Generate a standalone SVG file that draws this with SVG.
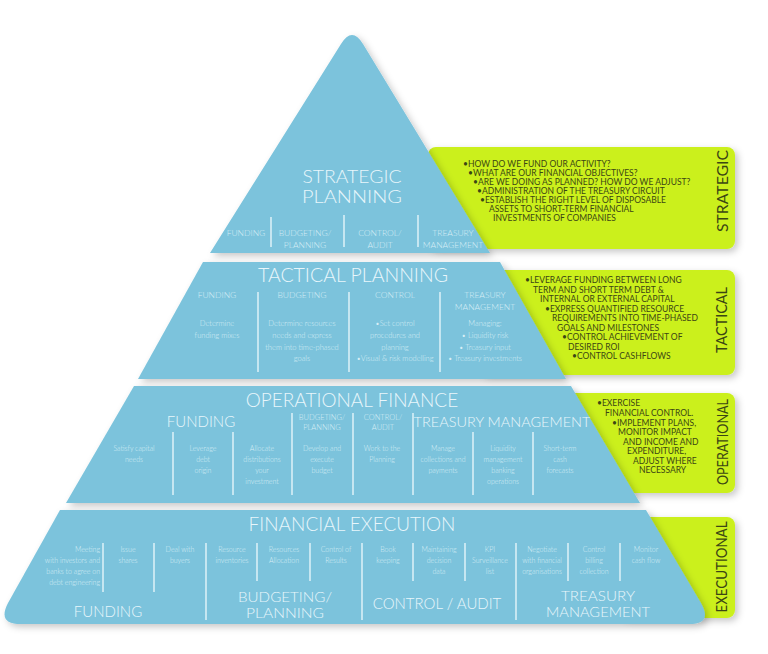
<svg xmlns="http://www.w3.org/2000/svg" width="768" height="654" viewBox="0 0 768 654">
<defs>
<filter id="sh" x="-10%" y="-10%" width="130%" height="130%">
<feDropShadow dx="3" dy="3" stdDeviation="3.5" flood-color="#000" flood-opacity="0.22"/>
</filter>
<style>
.band{fill:#7bc3dc;filter:url(#sh)}
.note{fill:#cbf01d;filter:url(#sh)}
text{font-family:Lato,"Open Sans","DejaVu Sans",sans-serif}
.h1{font-size:19px;fill:#e8f6fb;text-anchor:middle;font-weight:300}
.h2{font-size:15px;fill:#e8f6fb;text-anchor:middle;font-weight:300}
.sm{font-size:8.5px;fill:#d8eef6;text-anchor:middle;font-weight:300}
.tx{font-size:7px;fill:#d8eef6;text-anchor:middle;font-weight:300}
.dv{stroke:#e6f5fa;stroke-width:1.4}
.nt{font-size:8.5px;fill:#3b4614}
.vl{font-size:15px;fill:#3b4614;text-anchor:middle}
</style>
</defs>
<rect width="768" height="654" fill="#ffffff"/>

<g id="strategic-note">
<rect class="note" x="428" y="147" width="307" height="102" rx="8"/>
<text class="nt" x="463" y="167">•HOW DO WE FUND OUR ACTIVITY?</text>
<text class="nt" x="468" y="176">•WHAT ARE OUR FINANCIAL OBJECTIVES?</text>
<text class="nt" x="473" y="185">•ARE WE DOING AS PLANNED? HOW DO WE ADJUST?</text>
<text class="nt" x="477" y="194">•ADMINISTRATION OF THE TREASURY CIRCUIT</text>
<text class="nt" x="480" y="203">•ESTABLISH THE RIGHT LEVEL OF DISPOSABLE</text>
<text class="nt" x="489" y="212">ASSETS TO SHORT-TERM FINANCIAL</text>
<text class="nt" x="493" y="221">INVESTMENTS OF COMPANIES</text>
<text class="vl" transform="translate(728,191) rotate(-90)" textLength="82" lengthAdjust="spacingAndGlyphs">STRATEGIC</text>
</g>

<g id="tactical-note">
<rect class="note" x="480" y="270" width="255" height="105" rx="8"/>
<text class="nt" x="525" y="283">•LEVERAGE FUNDING BETWEEN LONG</text>
<text class="nt" x="533" y="292.5">TERM AND SHORT TERM DEBT &amp;</text>
<text class="nt" x="540" y="302">INTERNAL OR EXTERNAL CAPITAL</text>
<text class="nt" x="545" y="311.5">•EXPRESS QUANTIFIED RESOURCE</text>
<text class="nt" x="552" y="321">REQUIREMENTS INTO TIME-PHASED</text>
<text class="nt" x="557" y="330.5">GOALS AND MILESTONES</text>
<text class="nt" x="562" y="340">•CONTROL ACHIEVEMENT OF</text>
<text class="nt" x="568" y="349.5">DESIRED ROI</text>
<text class="nt" x="572" y="359">•CONTROL CASHFLOWS</text>
<text class="vl" transform="translate(727,320) rotate(-90)" textLength="66" lengthAdjust="spacingAndGlyphs">TACTICAL</text>
</g>

<g id="operational-note">
<rect class="note" x="560" y="393" width="175" height="100" rx="8"/>
<text class="nt" x="597" y="406">•EXERCISE</text>
<text class="nt" x="605" y="416">FINANCIAL CONTROL.</text>
<text class="nt" x="612" y="426">•IMPLEMENT PLANS,</text>
<text class="nt" x="618" y="435">MONITOR IMPACT</text>
<text class="nt" x="623" y="445">AND INCOME AND</text>
<text class="nt" x="627" y="454">EXPENDITURE,</text>
<text class="nt" x="633" y="464">ADJUST WHERE</text>
<text class="nt" x="639" y="473">NECESSARY</text>
<text class="vl" transform="translate(728,442) rotate(-90)" textLength="86" lengthAdjust="spacingAndGlyphs">OPERATIONAL</text>
</g>

<g id="executional-note">
<rect class="note" x="620" y="517" width="115" height="101" rx="8"/>
<text class="vl" transform="translate(727,567) rotate(-90)" textLength="91" lengthAdjust="spacingAndGlyphs">EXECUTIONAL</text>
</g>

<g id="strategic">
<path class="band" d="M210,253 L341,44 Q352,26 363,44 L490,253 Z"/>
<text class="h1" x="352" y="182.5" style="font-size:17px" textLength="99" lengthAdjust="spacingAndGlyphs">STRATEGIC</text>
<text class="h1" x="352" y="203" style="font-size:17px" textLength="100" lengthAdjust="spacingAndGlyphs">PLANNING</text>
<line class="dv" x1="271" y1="217" x2="271" y2="247"/>
<line class="dv" x1="344" y1="215" x2="344" y2="247"/>
<line class="dv" x1="418" y1="215" x2="418" y2="247"/>
<text class="sm" x="246" y="236">FUNDING</text>
<text class="sm" x="305" y="236">BUDGETING/</text>
<text class="sm" x="305" y="248">PLANNING</text>
<text class="sm" x="380" y="236">CONTROL/</text>
<text class="sm" x="380" y="248">AUDIT</text>
<text class="sm" x="453" y="236">TREASURY</text>
<text class="sm" x="453" y="248">MANAGEMENT</text>
</g>

<g id="tactical">
<path class="band" d="M203,262 L500,262 L566,379 L138,379 Z"/>
<text class="h1" x="353" y="282" style="font-size:19.5px">TACTICAL PLANNING</text>
<line class="dv" x1="258" y1="292" x2="258" y2="372"/>
<line class="dv" x1="349" y1="292" x2="349" y2="372"/>
<line class="dv" x1="440" y1="292" x2="440" y2="372"/>
<text class="sm" x="217" y="298">FUNDING</text>
<text class="sm" x="302" y="298">BUDGETING</text>
<text class="sm" x="395" y="298">CONTROL</text>
<text class="sm" x="485" y="298">TREASURY</text>
<text class="sm" x="485" y="310">MANAGEMENT</text>
<text class="tx" x="217" y="326" style="font-size:7.5px">Determine</text>
<text class="tx" x="217" y="338" style="font-size:7.5px">funding mixes</text>
<text class="tx" x="302" y="326" style="font-size:7.5px">Determine resources</text>
<text class="tx" x="302" y="338" style="font-size:7.5px">needs and express</text>
<text class="tx" x="302" y="350" style="font-size:7.5px">them into time-phased</text>
<text class="tx" x="302" y="361" style="font-size:7.5px">goals</text>
<text class="tx" x="395" y="326" style="font-size:7.5px">•Set control</text>
<text class="tx" x="395" y="338" style="font-size:7.5px">procedures and</text>
<text class="tx" x="395" y="350" style="font-size:7.5px">planning</text>
<text class="tx" x="395" y="361" style="font-size:7.5px">•Visual &amp; risk modelling</text>
<text class="tx" x="485" y="326" style="font-size:7.5px">Managing:</text>
<text class="tx" x="485" y="338" style="font-size:7.5px">• Liquidity risk</text>
<text class="tx" x="485" y="350" style="font-size:7.5px">• Treasury input</text>
<text class="tx" x="485" y="361" style="font-size:7.5px">• Treasury investments</text>
</g>

<g id="operational">
<path class="band" d="M134,386 L571,386 L640,503 L66,503 Z"/>
<text class="h1" x="352" y="407">OPERATIONAL FINANCE</text>
<text class="h2" x="201" y="427">FUNDING</text>
<text class="tx" x="322" y="420" style="font-size:7.5px">BUDGETING/</text>
<text class="tx" x="322" y="430" style="font-size:7.5px">PLANNING</text>
<text class="tx" x="383" y="420" style="font-size:7.5px">CONTROL/</text>
<text class="tx" x="383" y="430" style="font-size:7.5px">AUDIT</text>
<text class="h2" x="502" y="427" style="font-size:14.5px">TREASURY MANAGEMENT</text>
<line class="dv" x1="173" y1="432" x2="173" y2="495"/>
<line class="dv" x1="233" y1="432" x2="233" y2="495"/>
<line class="dv" x1="292" y1="413" x2="292" y2="495"/>
<line class="dv" x1="353" y1="413" x2="353" y2="495"/>
<line class="dv" x1="413" y1="413" x2="413" y2="495"/>
<line class="dv" x1="473" y1="432" x2="473" y2="495"/>
<line class="dv" x1="533" y1="432" x2="533" y2="495"/>
<text class="tx" x="134" y="451">Satisfy capital</text>
<text class="tx" x="134" y="462">needs</text>
<text class="tx" x="203" y="451">Leverage</text>
<text class="tx" x="203" y="462">debt</text>
<text class="tx" x="203" y="473">origin</text>
<text class="tx" x="262" y="451">Allocate</text>
<text class="tx" x="262" y="462">distributions</text>
<text class="tx" x="262" y="473">your</text>
<text class="tx" x="262" y="484">investment</text>
<text class="tx" x="322" y="451">Develop and</text>
<text class="tx" x="322" y="462">execute</text>
<text class="tx" x="322" y="473">budget</text>
<text class="tx" x="382" y="451">Work to the</text>
<text class="tx" x="382" y="462">Planning</text>
<text class="tx" x="443" y="451">Manage</text>
<text class="tx" x="443" y="462">collections and</text>
<text class="tx" x="443" y="473">payments</text>
<text class="tx" x="503" y="451">Liquidity</text>
<text class="tx" x="503" y="462">management</text>
<text class="tx" x="503" y="473">banking</text>
<text class="tx" x="503" y="484">operations</text>
<text class="tx" x="560" y="451">Short-term</text>
<text class="tx" x="560" y="462">cash</text>
<text class="tx" x="560" y="473">forecasts</text>
</g>

<g id="executional">
<path class="band" d="M60,510 L646,510 L701,603 Q713,624 689,624 L21,624 Q-3,624 8,603 Z"/>
<text class="h1" x="352" y="531">FINANCIAL EXECUTION</text>
<line class="dv" x1="103" y1="543" x2="103" y2="592"/>
<line class="dv" x1="154" y1="543" x2="154" y2="592"/>
<line class="dv" x1="206" y1="543" x2="206" y2="620"/>
<line class="dv" x1="257" y1="543" x2="257" y2="581"/>
<line class="dv" x1="310" y1="543" x2="310" y2="581"/>
<line class="dv" x1="362" y1="543" x2="362" y2="620"/>
<line class="dv" x1="413" y1="543" x2="413" y2="581"/>
<line class="dv" x1="465" y1="543" x2="465" y2="581"/>
<line class="dv" x1="516" y1="543" x2="516" y2="620"/>
<line class="dv" x1="568" y1="543" x2="568" y2="581"/>
<line class="dv" x1="620" y1="543" x2="620" y2="581"/>
<text class="tx" x="100" y="552" style="text-anchor:end">Meeting</text>
<text class="tx" x="100" y="563" style="text-anchor:end">with investors and</text>
<text class="tx" x="100" y="574" style="text-anchor:end">banks to agree on</text>
<text class="tx" x="100" y="585" style="text-anchor:end">debt engineering</text>
<text class="tx" x="128" y="552">Issue</text>
<text class="tx" x="128" y="563">shares</text>
<text class="tx" x="180" y="552">Deal with</text>
<text class="tx" x="180" y="563">buyers</text>
<text class="tx" x="232" y="552">Resource</text>
<text class="tx" x="232" y="563">inventories</text>
<text class="tx" x="284" y="552">Resources</text>
<text class="tx" x="284" y="563">Allocation</text>
<text class="tx" x="336" y="552">Control of</text>
<text class="tx" x="336" y="563">Results</text>
<text class="tx" x="388" y="552">Book</text>
<text class="tx" x="388" y="563">keeping</text>
<text class="tx" x="439" y="552">Maintaining</text>
<text class="tx" x="439" y="563">decision</text>
<text class="tx" x="439" y="574">data</text>
<text class="tx" x="490" y="552">KPI</text>
<text class="tx" x="490" y="563">Surveillance</text>
<text class="tx" x="490" y="574">list</text>
<text class="tx" x="542" y="552">Negotiate</text>
<text class="tx" x="542" y="563">with financial</text>
<text class="tx" x="542" y="574">organisations</text>
<text class="tx" x="594" y="552">Control</text>
<text class="tx" x="594" y="563">billing</text>
<text class="tx" x="594" y="574">collection</text>
<text class="tx" x="646" y="552">Monitor</text>
<text class="tx" x="646" y="563">cash flow</text>
<text class="h2" x="108" y="617">FUNDING</text>
<text class="h2" x="285" y="602" style="font-size:13.5px" textLength="94" lengthAdjust="spacingAndGlyphs">BUDGETING/</text>
<text class="h2" x="285" y="618" style="font-size:13.5px" textLength="78" lengthAdjust="spacingAndGlyphs">PLANNING</text>
<text class="h2" x="437" y="609">CONTROL / AUDIT</text>
<text class="h2" x="598" y="601" style="font-size:13.5px" textLength="74" lengthAdjust="spacingAndGlyphs">TREASURY</text>
<text class="h2" x="598" y="617" style="font-size:13.5px" textLength="104" lengthAdjust="spacingAndGlyphs">MANAGEMENT</text>
</g>
</svg>
